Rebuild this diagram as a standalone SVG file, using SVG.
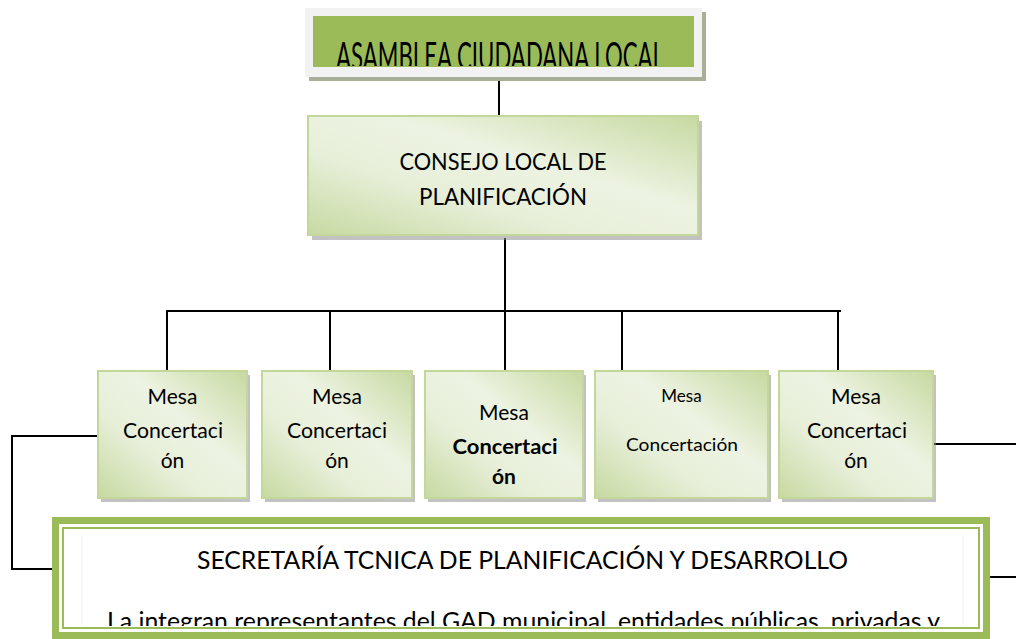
<svg xmlns="http://www.w3.org/2000/svg" width="1016" height="639" viewBox="0 0 1016 639">
<defs>
<style>
.t{font-family:Lato,"Liberation Sans",Arial,sans-serif;fill:#000;text-anchor:middle}
.box{stroke:#C4D79B;stroke-width:2}
.sh{fill:#8f8f8f;opacity:0.55}
.ln{stroke:#000;stroke-width:2;fill:none}
</style>
<linearGradient id="g" x1="1" y1="0" x2="0" y2="1">
<stop offset="0" stop-color="#C7D9A1"/>
<stop offset="0.4" stop-color="#EDF3E2"/>
<stop offset="0.65" stop-color="#E7EFD9"/>
<stop offset="1" stop-color="#C7D9A1"/>
</linearGradient>
<clipPath id="c1"><rect x="313" y="16" width="381" height="50"/></clipPath>
<clipPath id="c2"><rect x="64" y="529" width="915" height="97"/></clipPath>
</defs>
<rect width="1016" height="639" fill="#fff"/>

<g id="connectors">
<path class="ln" d="M499 77V116"/>
<path class="ln" d="M505 238V311"/>
<path class="ln" d="M166 311H841"/>
<path class="ln" d="M167 311V371M330 311V371M505 311V371M622 311V371M838 311V371"/>
<path class="ln" d="M97 436H12V569H52"/>
<path class="ln" d="M933 444H1016"/>
<path class="ln" d="M990 577H1016"/>
</g>

<g id="asamblea">
<rect x="309" y="12" width="397" height="69" fill="#A8AE98"/>
<rect x="305" y="8" width="397" height="69" fill="#F2F2F2"/>
<rect x="313" y="16" width="381" height="51" fill="#9BBB59"/>
<text class="t" clip-path="url(#c1)" x="500" y="70" font-size="38" textLength="328" lengthAdjust="spacingAndGlyphs">ASAMBLEA CIUDADANA LOCAL</text>
</g>

<g id="consejo">
<rect class="sh" x="312" y="121" width="390" height="119"/>
<rect class="box" x="308" y="116" width="390" height="119" fill="url(#g)"/>
<text class="t" x="503" y="170" font-size="23" textLength="207" lengthAdjust="spacingAndGlyphs">CONSEJO LOCAL DE</text>
<text class="t" x="503" y="205" font-size="23" textLength="168" lengthAdjust="spacingAndGlyphs">PLANIFICACIÓN</text>
</g>

<g id="mesa1">
<rect class="sh" x="101" y="375" width="149" height="127"/>
<rect class="box" x="98" y="371" width="149" height="127" fill="url(#g)"/>
<text class="t" x="172.5" y="404" font-size="21">Mesa</text>
<text class="t" x="173" y="438" font-size="21" textLength="100" lengthAdjust="spacingAndGlyphs">Concertaci</text>
<text class="t" x="172.5" y="468" font-size="21">ón</text>
</g>

<g id="mesa2">
<rect class="sh" x="265" y="375" width="150" height="127"/>
<rect class="box" x="262" y="371" width="150" height="127" fill="url(#g)"/>
<text class="t" x="337" y="404" font-size="21">Mesa</text>
<text class="t" x="337" y="438" font-size="21" textLength="100" lengthAdjust="spacingAndGlyphs">Concertaci</text>
<text class="t" x="337" y="468" font-size="21">ón</text>
</g>

<g id="mesa3">
<rect class="sh" x="428" y="375" width="158" height="127"/>
<rect class="box" x="425" y="371" width="158" height="127" fill="url(#g)"/>
<text class="t" x="504" y="420" font-size="21">Mesa</text>
<text class="t" x="505" y="454" font-size="21" font-weight="bold" textLength="105" lengthAdjust="spacingAndGlyphs">Concertaci</text>
<text class="t" x="504" y="484" font-size="21" font-weight="bold">ón</text>
</g>

<g id="mesa4">
<rect class="sh" x="598" y="375" width="173" height="127"/>
<rect class="box" x="595" y="371" width="173" height="127" fill="url(#g)"/>
<text class="t" x="681.5" y="402" font-size="17">Mesa</text>
<text class="t" x="682" y="451" font-size="17" textLength="112" lengthAdjust="spacingAndGlyphs">Concertación</text>
</g>

<g id="mesa5">
<rect class="sh" x="782" y="375" width="154" height="127"/>
<rect class="box" x="779" y="371" width="154" height="127" fill="url(#g)"/>
<text class="t" x="856" y="404" font-size="21">Mesa</text>
<text class="t" x="857" y="438" font-size="21" textLength="100" lengthAdjust="spacingAndGlyphs">Concertaci</text>
<text class="t" x="856" y="468" font-size="21">ón</text>
</g>

<g id="secretaria">
<rect x="52" y="517" width="938" height="130" fill="#9BBB59"/>
<rect x="59" y="524" width="924" height="108" fill="#fff"/>
<rect x="63" y="528" width="916" height="100" fill="none" stroke="#9BBB59" stroke-width="2"/>
<path d="M82 536V626M963 536V626" stroke="#F0F0F0" stroke-width="1"/>
<text class="t" x="522.5" y="569" font-size="25" textLength="651" lengthAdjust="spacingAndGlyphs">SECRETARÍA TCNICA DE PLANIFICACIÓN Y DESARROLLO</text>
<text class="t" clip-path="url(#c2)" x="523.5" y="630" font-size="25" textLength="833" lengthAdjust="spacingAndGlyphs">La integran representantes del GAD municipal, entidades públicas, privadas y</text>
</g>
</svg>
